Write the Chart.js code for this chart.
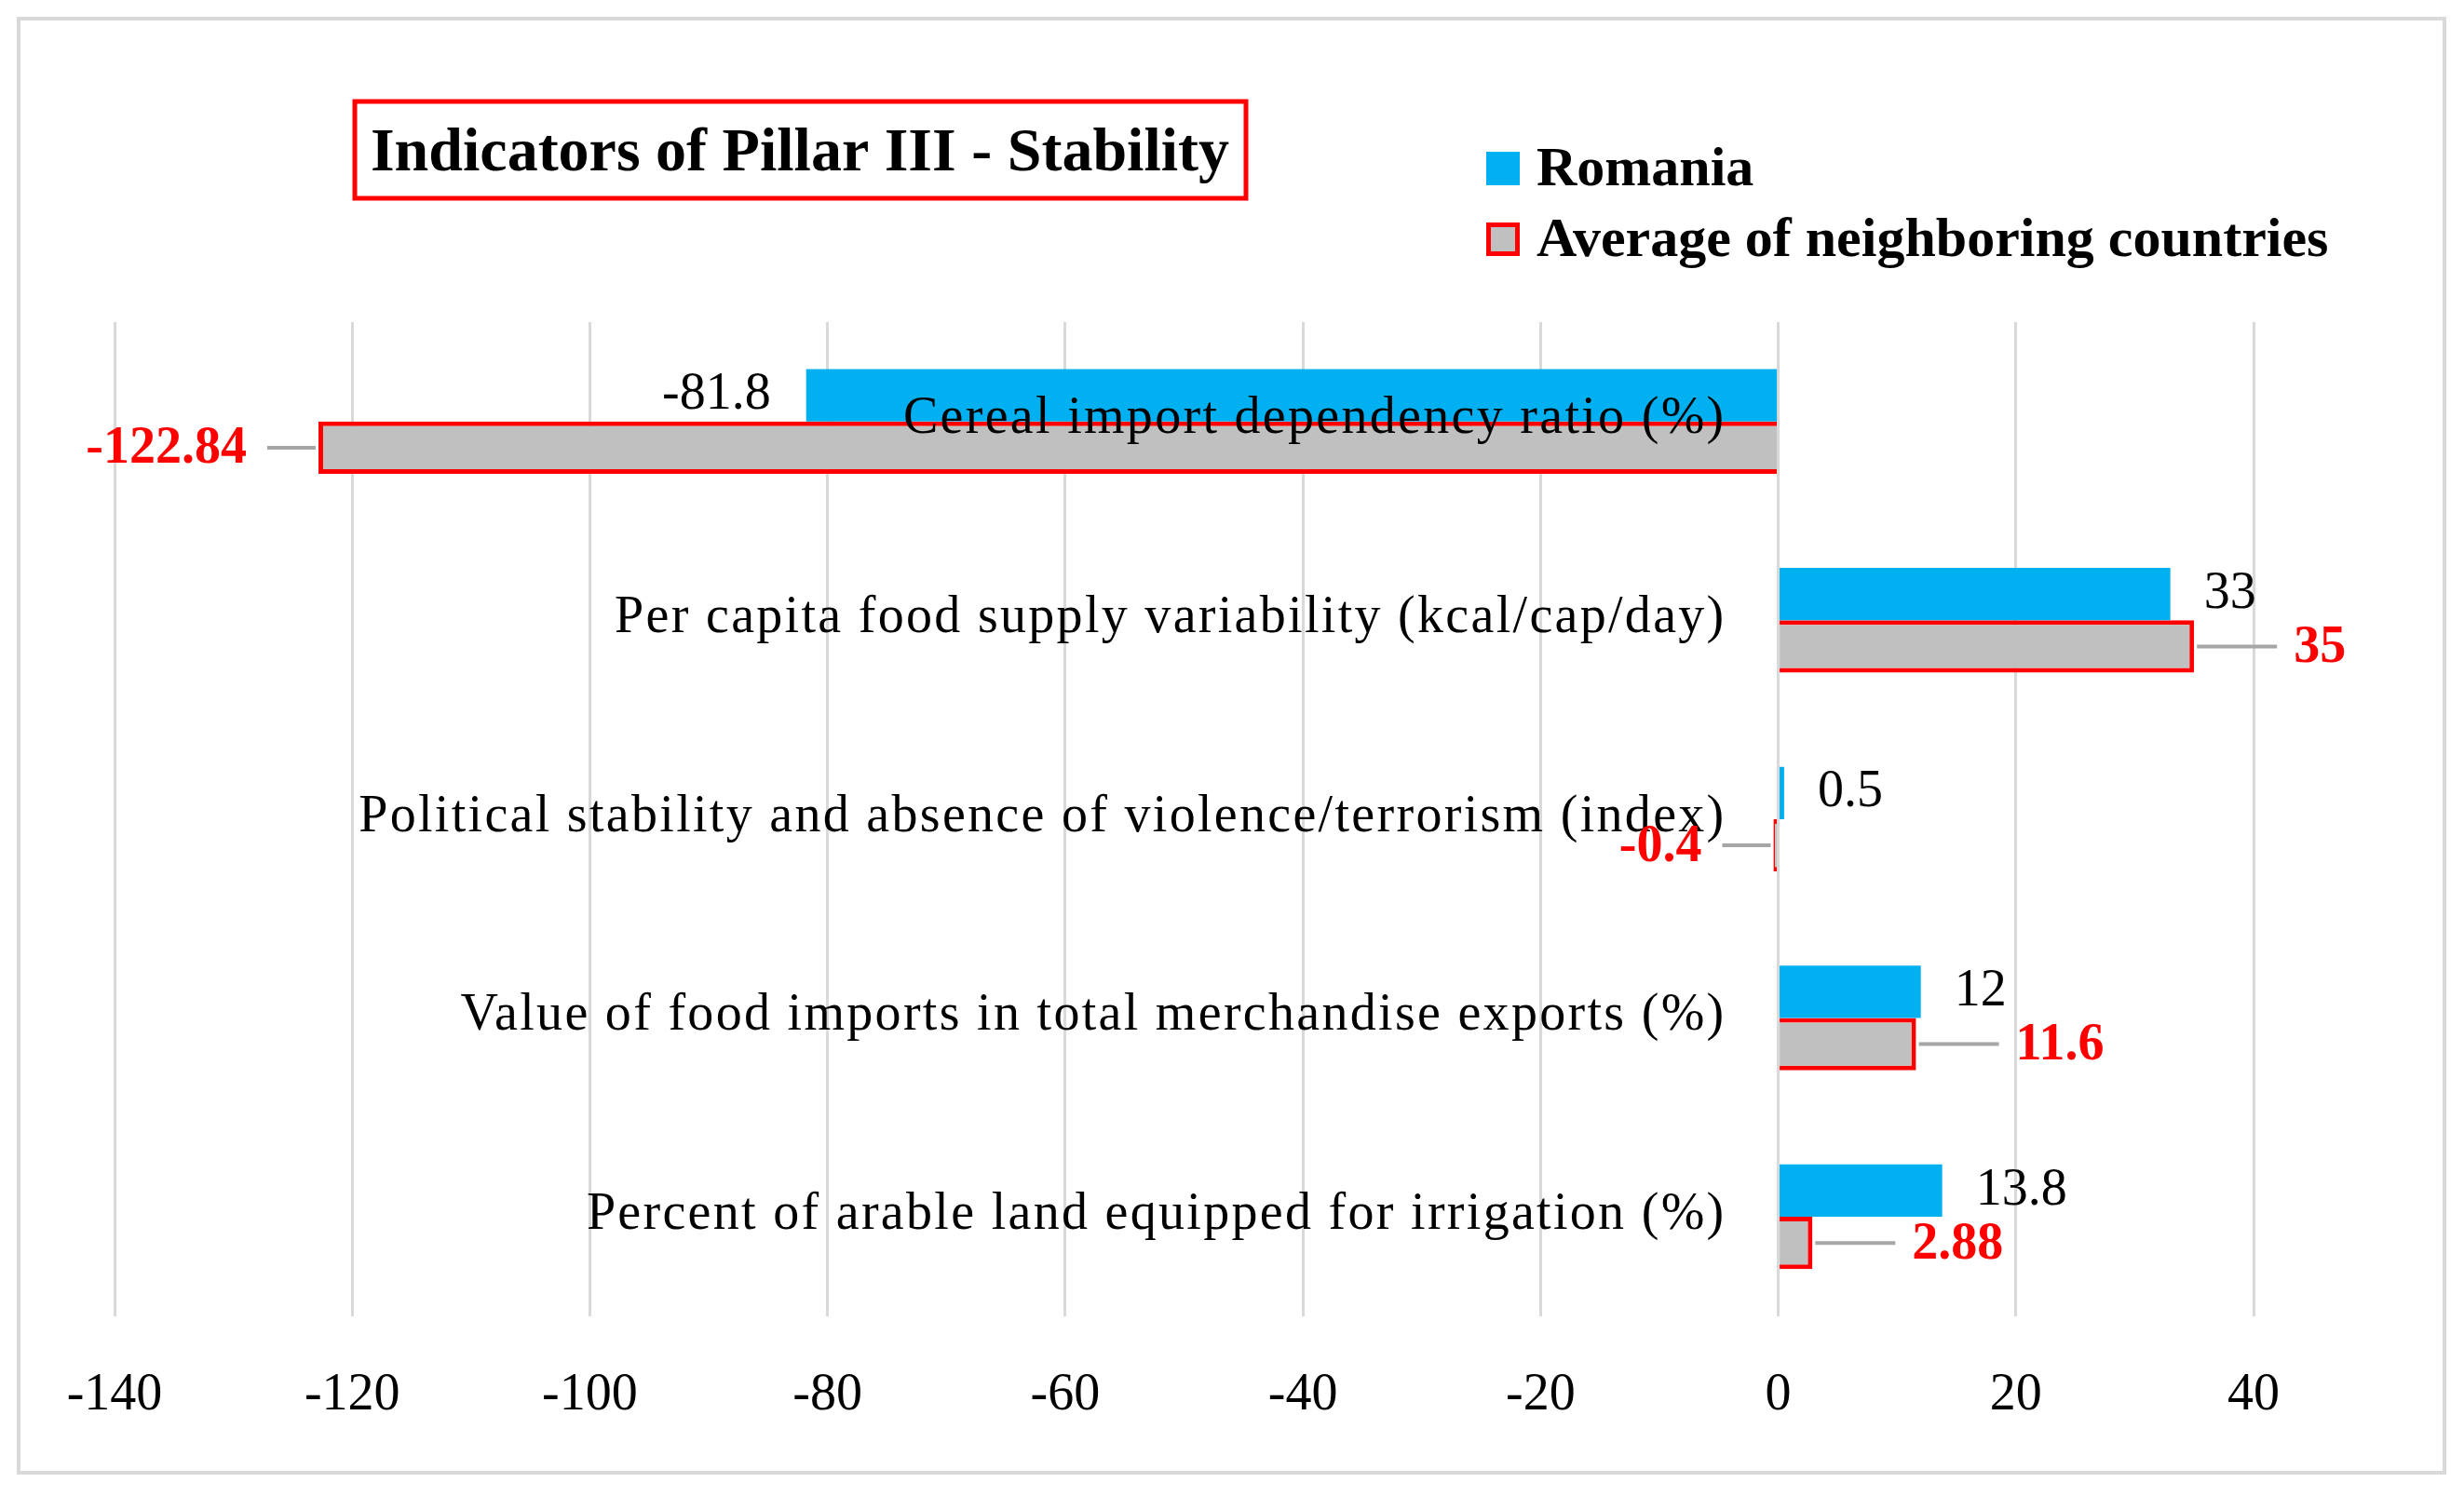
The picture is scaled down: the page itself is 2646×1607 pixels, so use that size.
<!DOCTYPE html>
<html>
<head>
<meta charset="utf-8">
<title>Indicators of Pillar III - Stability</title>
<script src="https://cdn.jsdelivr.net/npm/chart.js"></script>
<style>
  html, body { margin: 0; padding: 0; background: #fff; }
  #wrap { width: 2646px; height: 1607px; position: relative; }
</style>
</head>
<body>
<div id="wrap"><canvas id="pillarChart"></canvas></div>
<script>
// data
const categories = [
    'Cereal import dependency ratio (%)',
    'Per capita food supply variability (kcal/cap/day)',
    'Political stability and absence of violence/terrorism (index)',
    'Value of food imports in total merchandise exports (%)',
    'Percent of arable land equipped for irrigation (%)'
];
const romaniaValues = [-81.8, 33, 0.5, 12, 13.8];
const neighborValues = [-122.84, 35, -0.4, 11.6, 2.88];
const xTickMin = -140;
const xTickMax = 40;
const xTickStep = 20;
const chartTitle = 'Indicators of Pillar III - Stability';
const seriesNames = ['Romania', 'Average of neighboring countries'];

const FONT = "'Liberation Serif', 'DejaVu Serif', serif";
const BLUE = '#00B0F0';
const GREY = '#C0C0C0';
const RED = '#FF0000';

// frame, title box and legend (drawn by hand, like the Excel original)
const decorPlugin = {
    id: 'decor',
    beforeDraw(chart) {
        const ctx = chart.ctx;
        ctx.save();
        ctx.fillStyle = '#fff';
        ctx.fillRect(0, 0, chart.width, chart.height);
        ctx.strokeStyle = '#D9D9D9';
        ctx.lineWidth = 4;
        ctx.strokeRect(20, 20, 2605, 1562);
        ctx.restore();
    },
    afterDraw(chart) {
        const ctx = chart.ctx;
        ctx.save();
        // title in red box
        ctx.strokeStyle = RED;
        ctx.lineWidth = 5;
        ctx.strokeRect(381, 109, 957, 104);
        ctx.fillStyle = '#000';
        ctx.font = 'bold 66px ' + FONT;
        ctx.textAlign = 'center';
        ctx.textBaseline = 'middle';
        ctx.fillText(chartTitle, 859, 166);

        // legend
        const ds = chart.data.datasets;
        ctx.font = 'bold 60px ' + FONT;
        ctx.textAlign = 'left';
        const rows = [181, 257];
        ds.forEach((d, i) => {
            const y = rows[i];
            ctx.fillStyle = d.backgroundColor;
            ctx.fillRect(1596, y - 18, 36, 36);
            if (d.borderWidth) {
                ctx.strokeStyle = d.borderColor;
                ctx.lineWidth = 5;
                ctx.strokeRect(1598.5, y - 15.5, 31, 31);
            }
            ctx.fillStyle = '#000';
            ctx.fillText(d.label, 1650, y + 2);
        });
        ctx.restore();
    }
};

// category names sit inside the plot, right-aligned against zero
const categoryLabelPlugin = {
    id: 'categoryLabels',
    afterDatasetsDraw(chart) {
        const ctx = chart.ctx;
        const x0 = chart.scales.x.getPixelForValue(0);
        ctx.save();
        ctx.font = '56px ' + FONT;
        ctx.letterSpacing = '2.3px';
        ctx.fillStyle = '#000';
        ctx.textAlign = 'right';
        ctx.textBaseline = 'middle';
        chart.data.labels.forEach((lbl, i) => {
            const y = chart.scales.y.getPixelForTick(i);
            ctx.fillText(lbl, x0 - 56, y - 2);
        });
        ctx.restore();
    }
};

// value labels: plain black for Romania, red bold with a leader line for neighbours
const valueLabelPlugin = {
    id: 'valueLabels',
    afterDatasetsDraw(chart) {
        const ctx = chart.ctx;
        ctx.save();
        ctx.textBaseline = 'middle';
        chart.data.datasets.forEach((ds, di) => {
            const meta = chart.getDatasetMeta(di);
            meta.data.forEach((bar, i) => {
                const v = ds.data[i];
                const xEnd = bar.x;
                const y = bar.y;
                const neg = v < 0;
                if (di === 0) {
                    ctx.font = '56px ' + FONT;
                    ctx.fillStyle = '#000';
                    ctx.textAlign = neg ? 'right' : 'left';
                    ctx.fillText(String(v), neg ? xEnd - 38 : xEnd + 36, y);
                } else {
                    const lead = neg ? 52 : 86;
                    const gap = neg ? 22 : 18;
                    const s = neg ? -1 : 1;
                    ctx.strokeStyle = '#A6A6A6';
                    ctx.lineWidth = 4;
                    ctx.beginPath();
                    ctx.moveTo(xEnd + s * 3, y);
                    ctx.lineTo(xEnd + s * (3 + lead), y);
                    ctx.stroke();
                    ctx.font = 'bold 56px ' + FONT;
                    ctx.fillStyle = RED;
                    ctx.textAlign = neg ? 'right' : 'left';
                    ctx.fillText(String(v), xEnd + s * (3 + lead + gap), y + 2);
                }
            });
        });
        ctx.restore();
    }
};

const ctx = document.getElementById('pillarChart').getContext('2d');
new Chart(ctx, {
    type: 'bar',
    data: {
        labels: categories,
        datasets: [{
            label: seriesNames[0],
            data: romaniaValues,
            backgroundColor: BLUE,
            borderWidth: 0
        }, {
            label: seriesNames[1],
            data: neighborValues,
            backgroundColor: GREY,
            borderColor: RED,
            borderWidth: 5
        }]
    },
    options: {
        indexAxis: 'y',
        responsive: true,
        maintainAspectRatio: false,
        devicePixelRatio: 1,
        animation: false,
        datasets: {
            bar: {
                barPercentage: 1.0,
                categoryPercentage: 0.527
            }
        },
        layout: {
            padding: { left: 123, right: 226, top: 346, bottom: 22 }
        },
        plugins: {
            legend: { display: false },
            title: { display: false },
            tooltip: { enabled: false }
        },
        scales: {
            x: {
                min: xTickMin,
                max: xTickMax,
                ticks: {
                    stepSize: xTickStep,
                    color: '#000',
                    padding: 52,
                    font: { family: FONT, size: 56 }
                },
                grid: {
                    color: '#D9D9D9',
                    lineWidth: 3,
                    drawTicks: false
                },
                border: { display: false }
            },
            y: {
                display: false,
                grid: { display: false }
            }
        }
    },
    plugins: [decorPlugin, categoryLabelPlugin, valueLabelPlugin]
});
</script>
</body>
</html>
